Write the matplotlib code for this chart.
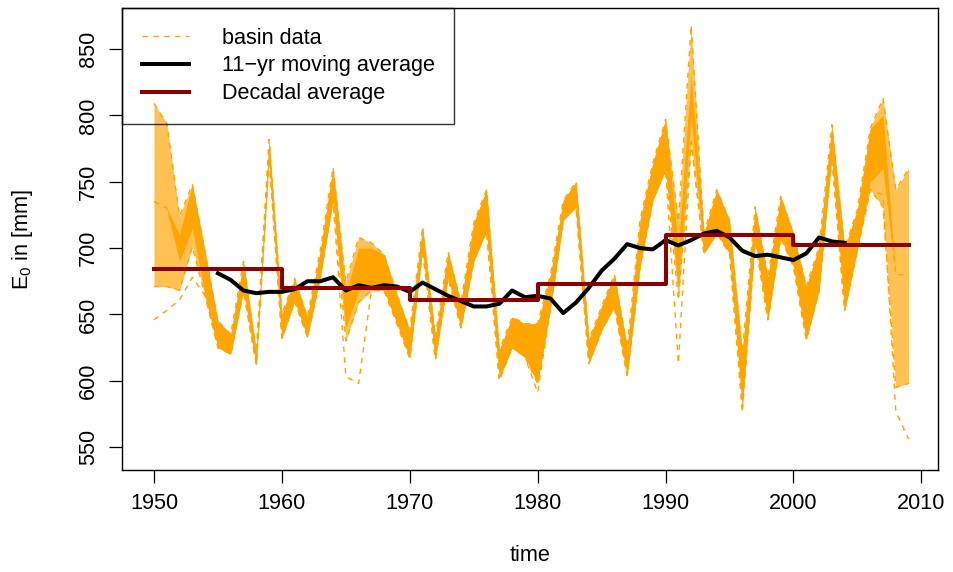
import numpy as np
import matplotlib
matplotlib.use("Agg")
import matplotlib.pyplot as plt
from matplotlib.lines import Line2D

plt.rcParams['font.family'] = ['Liberation Sans', 'DejaVu Sans']
plt.rcParams['mathtext.default'] = 'regular'

years = list(range(1950, 2010))

# upper edge of the bundle of basin series
basin_hi = [809, 794, 724, 748, 697, 645, 635, 690, 622, 782,
            650, 677, 648, 698, 761, 674, 708, 704, 695, 665,
            638, 716, 633, 697, 659, 719, 744, 623, 648, 643,
            643, 680, 736, 750, 631, 656, 680, 625, 721, 764,
            797, 720, 868, 711, 744, 721, 621, 731, 678, 739,
            711, 671, 701, 793, 700, 729, 790, 813, 744, 760]
# a central basin series
basin_mid = [735, 730, 695, 722, 680, 634, 627, 680, 617, 775,
             640, 670, 640, 688, 748, 650, 685, 686, 682, 655,
             628, 708, 624, 688, 650, 705, 728, 612, 636, 630,
             625, 668, 730, 740, 622, 647, 668, 614, 705, 750,
             778, 688, 815, 703, 728, 708, 598, 718, 662, 724,
             698, 650, 685, 781, 676, 714, 767, 772, 680, 680]
# lower edge of the main bundle
basin_lo = [671, 671, 668, 701, 664, 625, 620, 668, 612, 768,
            632, 660, 633, 678, 736, 630, 659, 668, 668, 643,
            617, 699, 616, 678, 640, 690, 713, 602, 625, 618,
            598, 655, 721, 731, 613, 638, 656, 604, 686, 736,
            759, 661, 780, 696, 711, 696, 580, 706, 646, 708,
            686, 631, 668, 769, 653, 699, 744, 731, 595, 598]
# dense core of the bundle (upper / lower)
basin_core_hi = [735, 730, 710, 748, 697, 645, 635, 690, 622, 782,
                 650, 677, 648, 698, 761, 665, 700, 700, 695, 665,
                 638, 716, 633, 697, 659, 719, 744, 623, 648, 643,
                 643, 680, 736, 750, 631, 656, 680, 625, 721, 764,
                 797, 700, 830, 711, 744, 721, 621, 731, 678, 739,
                 711, 671, 701, 793, 700, 729, 790, 800, 680, 680]
basin_core_lo = [735, 730, 690, 715, 664, 625, 620, 668, 612, 768,
                 632, 660, 633, 678, 736, 640, 668, 672, 668, 643,
                 617, 699, 616, 678, 640, 690, 713, 602, 625, 618,
                 598, 655, 721, 731, 613, 638, 656, 604, 686, 736,
                 759, 670, 800, 696, 711, 696, 580, 706, 646, 708,
                 686, 631, 668, 769, 653, 699, 750, 760, 680, 680]
# lowest single basin
basin_low_outlier = [646, 653, 661, 678, 664, 625, 620, 668, 612, 768,
                     632, 660, 633, 678, 736, 603, 598, 668, 668, 643,
                     617, 699, 616, 678, 640, 690, 713, 600, 625, 618,
                     591, 655, 721, 731, 613, 638, 656, 604, 686, 736,
                     759, 613, 780, 696, 711, 696, 576, 706, 646, 708,
                     686, 631, 668, 769, 653, 699, 744, 740, 577, 556]

ma_years = list(range(1955, 2005))
ma_values = [681, 676, 668, 666, 667, 667, 669, 675, 675, 678,
             668, 672, 670, 672, 671, 667, 674, 669, 664, 660,
             656, 656, 658, 668, 663, 664, 662, 651, 659, 670,
             683, 692, 703, 700, 699, 706, 702, 706, 711, 713,
             708, 698, 694, 695, 693, 691, 696, 708, 705, 704]

decade_starts = [1950, 1960, 1970, 1980, 1990, 2000]
decade_means = [684, 670, 661, 673, 710, 702]

xticks = [1950, 1960, 1970, 1980, 1990, 2000, 2010]
yticks = [550, 600, 650, 700, 750, 800, 850]

ORANGE = '#FFA500'
DARKRED = '#8B0000'
FS = 15.6

fig = plt.figure(figsize=(9.54, 5.72), dpi=100)
ax = fig.add_axes([122/954, 1-470/572, (938-122)/954, (470-8)/572])

ax.fill_between(years, basin_lo, basin_hi, color=ORANGE, lw=0, alpha=0.68)
ax.fill_between(years, basin_core_lo, basin_core_hi, color=ORANGE, lw=0, alpha=1.0)
dash = (0, (3.9, 3.9))
for s in (basin_hi, basin_mid, basin_lo, basin_low_outlier):
    ax.plot(years, s, color=ORANGE, lw=1.0, linestyle=dash)

ax.plot(ma_years, ma_values, color='black', lw=2.9, solid_joinstyle='round')

dec_x = decade_starts + [years[-1]]
dec_y = decade_means + [decade_means[-1]]
ax.plot(dec_x, dec_y, color=DARKRED, lw=2.9, drawstyle='steps-post')

ax.set_xlim(1947.5, 2011.3)
ax.set_ylim(532.7, 881)
ax.set_xticks(xticks)
ax.set_yticks(yticks)
ax.tick_params(labelsize=FS, length=9.4, width=0.9, direction='out', pad=7)
for lab in ax.get_yticklabels():
    lab.set_rotation(90)
    lab.set_va('center')
for sp in ax.spines.values():
    sp.set_linewidth(1.0)

ax.set_xlabel('time', fontsize=FS)
ax.xaxis.set_label_coords(0.5, -0.184)
ax.xaxis.label.set_va('center')
ax.set_ylabel('E$_0$ in [mm]', fontsize=FS)
ax.yaxis.set_label_coords(-0.1225, 0.5)
ax.yaxis.label.set_va('center')

handles = [Line2D([], [], color=ORANGE, lw=1.0, linestyle=dash),
           Line2D([], [], color='black', lw=2.9),
           Line2D([], [], color=DARKRED, lw=2.9)]
labels = ['basin data', '11\u2212yr moving average', 'Decadal average']
leg = ax.legend(handles, labels, loc='upper left', borderaxespad=0,
                fontsize=FS, frameon=True, fancybox=False, borderpad=0.9,
                handlelength=2.2, handletextpad=1.5, labelspacing=0.32)
leg.get_frame().set_edgecolor('black')
leg.get_frame().set_facecolor('none')
leg.get_frame().set_linewidth(1.0)

fig.savefig('out.png', dpi=100)
